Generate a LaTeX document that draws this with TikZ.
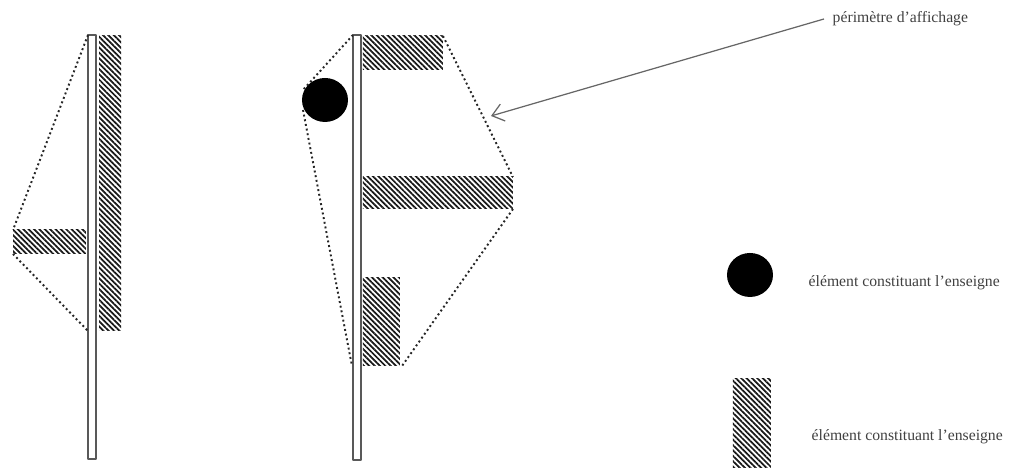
\documentclass[tikz,border=0pt]{standalone}
\usepackage{fontspec}
\setmainfont{Liberation Serif}
\usetikzlibrary{patterns.meta,arrows.meta}
\definecolor{inkgray}{gray}{0.25}
\tikzset{
  hatched/.style={pattern={Lines[angle=-45,distance=1.08pt,line width=0.5pt]},pattern color=black!90},
  pole/.style={draw=black!65,line width=0.45pt,fill=white},
  perimeter/.style={line width=0.55pt,dash pattern=on 0.55pt off 0.8pt,black!85},
  legendtext/.style={inner sep=0pt,anchor=west,text=inkgray,font=\fontsize{4.47}{6}\selectfont},
}
\begin{document}
\begin{tikzpicture}[line cap=butt,line join=round]
  \useasboundingbox (0,0) rectangle (10.09,4.69);
  % left sign
  \draw[pole] (0.88,0.10) rectangle (0.96,4.34);
  \fill[hatched] (0.99,1.38) rectangle (1.21,4.33);
  \fill[hatched] (0.13,2.15) rectangle (0.86,2.39);
  \coordinate (A1) at (0.88,4.34);
  \coordinate (A2) at (0.13,2.39);
  \coordinate (A3) at (0.13,2.15);
  \coordinate (A4) at (0.88,1.38);
  \draw[perimeter] (A1) -- (A2);
  \draw[perimeter] (A3) -- (A4);
  % middle sign
  \draw[pole] (3.53,0.09) rectangle (3.61,4.34);
  \fill[hatched] (3.63,3.99) rectangle (4.43,4.33);
  \fill[hatched] (3.63,2.60) rectangle (5.13,2.92);
  \fill[hatched] (3.63,1.03) rectangle (4.00,1.91);
  \fill[black] (3.25,3.69) ellipse (0.23 and 0.22);
  \coordinate (B1) at (3.53,4.34);
  \coordinate (B2) at (3.03,3.79);
  \coordinate (B3) at (3.03,3.59);
  \coordinate (B4) at (3.52,1.03);
  \coordinate (B5) at (4.43,4.33);
  \coordinate (B6) at (5.13,2.92);
  \coordinate (B7) at (5.13,2.60);
  \coordinate (B8) at (4.02,1.03);
  \draw[perimeter] (B1) -- (B2);
  \draw[perimeter] (B3) -- (B4);
  \draw[perimeter] (B5) -- (B6);
  \draw[perimeter] (B7) -- (B8);
  % label with arrow
  \coordinate (P) at (4.91,3.53);
  \node[legendtext] (perim) at (8.32,4.50) {périmètre d'affichage};
  \draw[black!60,line width=0.35pt,-{Straight Barb[length=3.2pt,width=5pt]}] (perim.west) ++(-0.08,0) -- (P);
  % legend
  \fill[black] (7.50,1.94) ellipse (0.23 and 0.22);
  \node[legendtext] (round) at (8.08,1.86) {élément constituant l'enseigne};
  \fill[hatched] (7.33,0.01) rectangle (7.71,0.90);
  \node[legendtext] (bar) at (8.11,0.32) {élément constituant l'enseigne};
\end{tikzpicture}
\end{document}
